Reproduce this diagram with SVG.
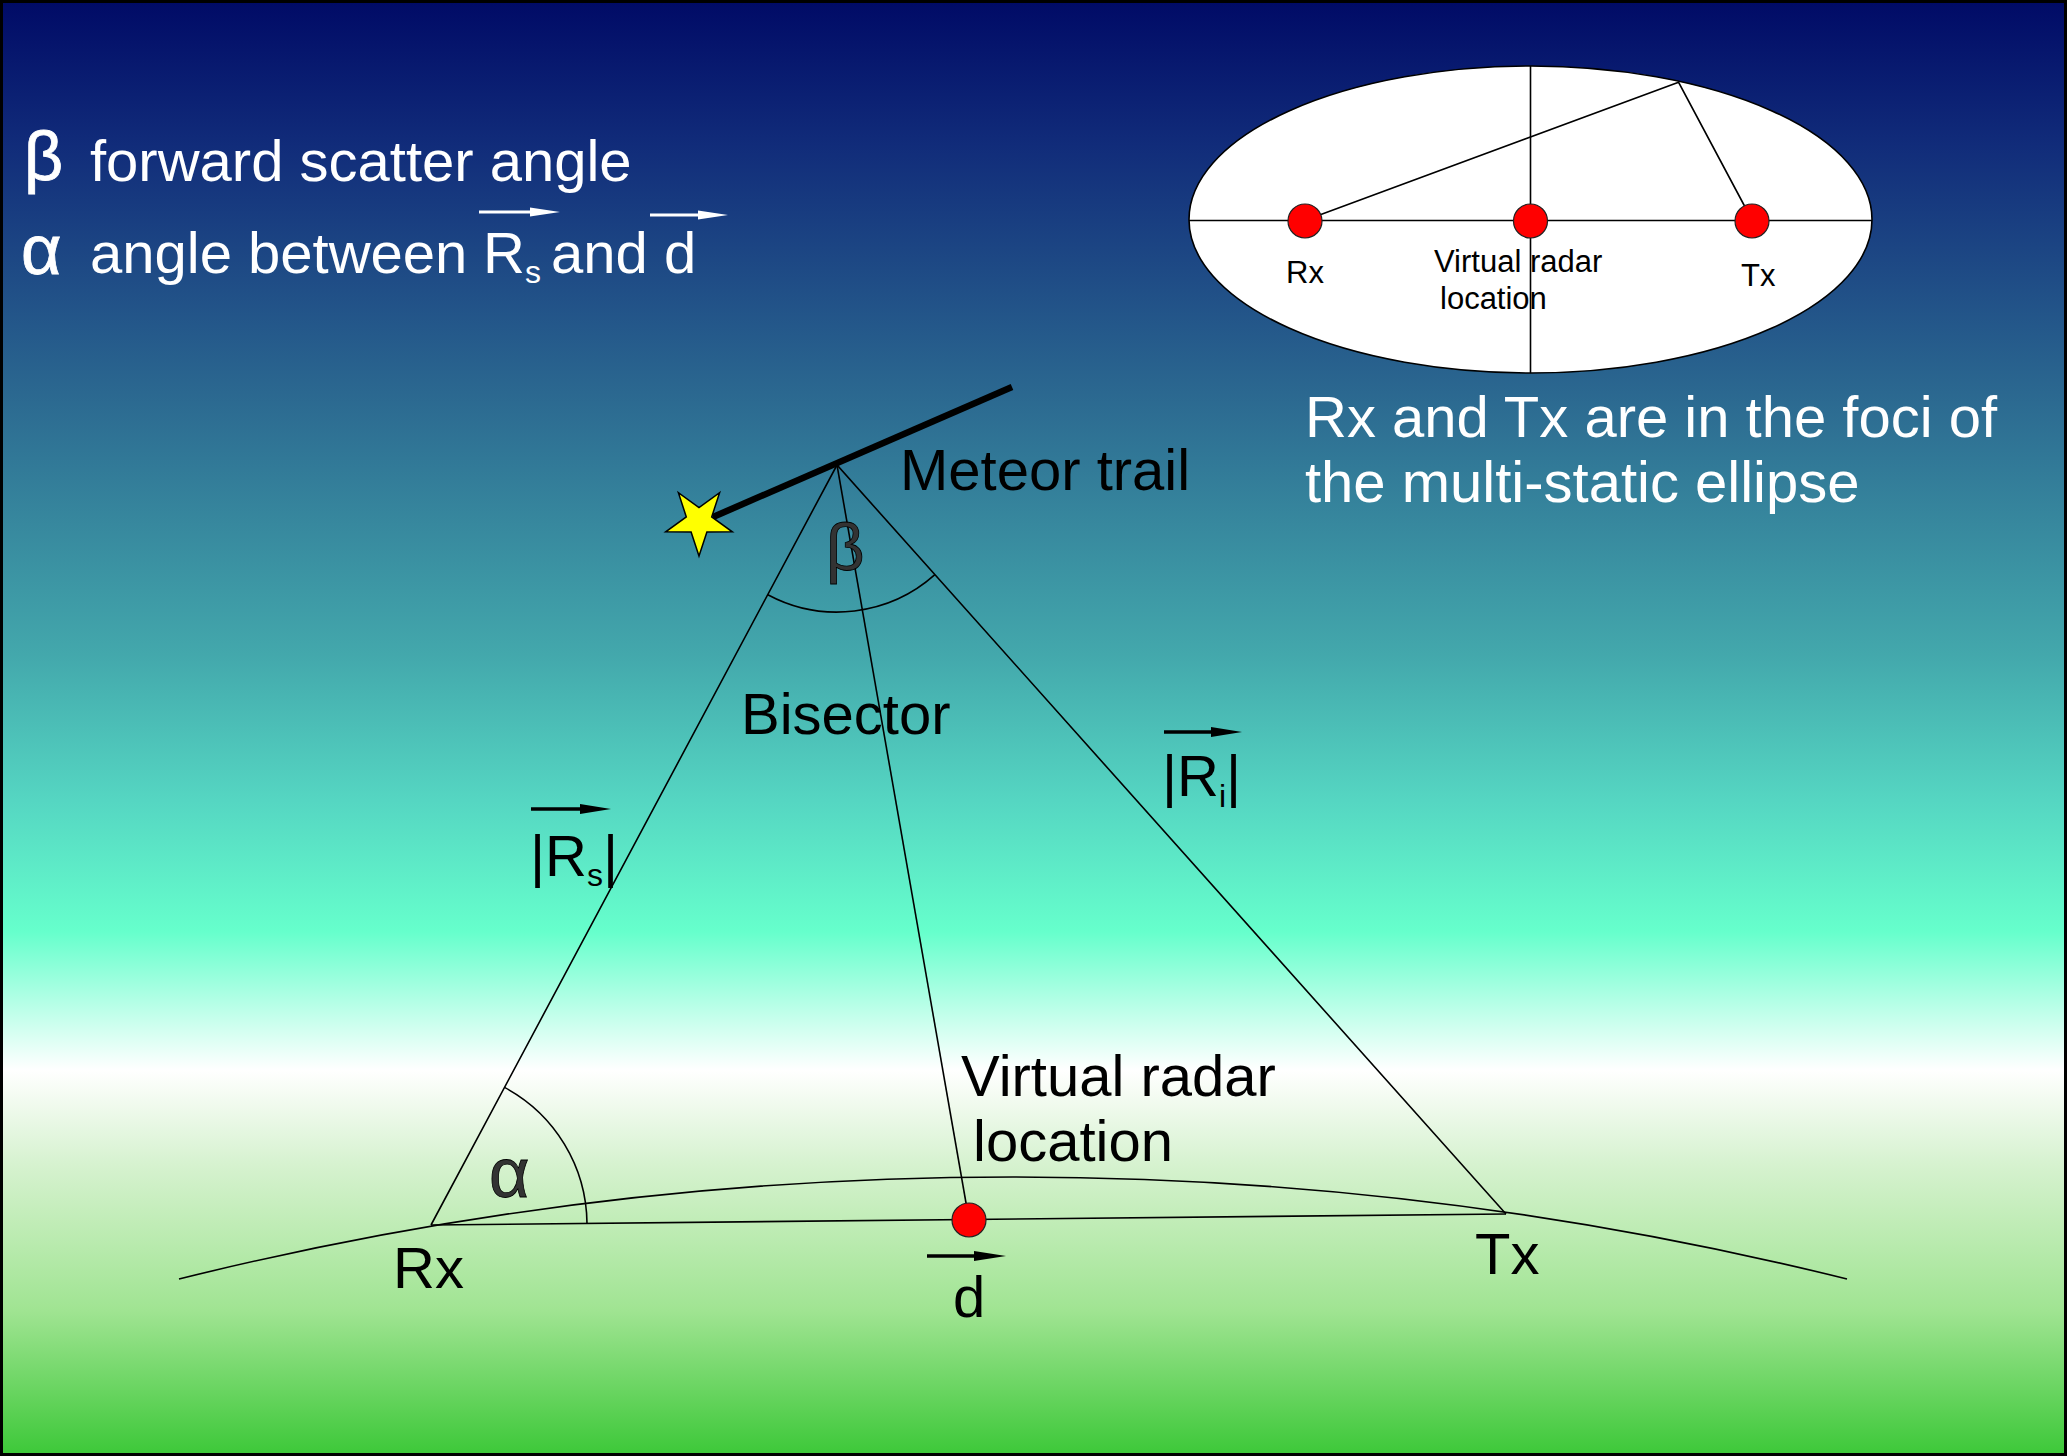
<svg xmlns="http://www.w3.org/2000/svg" width="2067" height="1456" viewBox="0 0 2067 1456">
<defs>
<linearGradient id="bg" x1="0" y1="0" x2="0" y2="1">
<stop offset="0" stop-color="#000a66"/>
<stop offset="0.10" stop-color="#112c7a"/>
<stop offset="0.27" stop-color="#2b6890"/>
<stop offset="0.45" stop-color="#43a8ac"/>
<stop offset="0.55" stop-color="#55d6c2"/>
<stop offset="0.64" stop-color="#66ffcc"/>
<stop offset="0.735" stop-color="#ffffff"/>
<stop offset="0.80" stop-color="#d6f2cf"/>
<stop offset="0.90" stop-color="#a0e492"/>
<stop offset="1" stop-color="#3cc838"/>
</linearGradient>
<style>
text{font-family:"Liberation Sans",Arial,sans-serif;}
.w{fill:#ffffff;font-size:58px;}
.b{fill:#000000;font-size:58px;}
.g{fill:#333333;stroke:#000;stroke-width:0.8;}
.gw{fill:#ffffff;stroke:#ffffff;stroke-width:0.8;}
.s{fill:#000000;font-size:31px;}
.ln{stroke:#000;stroke-width:1.6;fill:none;}
.dot{fill:#ff0000;stroke:#222;stroke-width:1.2;}
.aw{stroke:#fff;stroke-width:3;}
.ab{stroke:#000;stroke-width:3.5;}
</style>
</defs>
<rect x="0" y="0" width="2067" height="1456" fill="url(#bg)"/>
<rect x="1.5" y="1.5" width="2064" height="1453" fill="none" stroke="#000" stroke-width="3"/>

<g id="legend">
<text class="gw" x="24" y="180" font-size="68">β</text>
<text class="w" x="90" y="181">forward scatter angle</text>
<text class="gw" x="21" y="274" font-size="70">α</text>
<text class="w" x="90" y="273">angle between</text>
<text class="w" x="483" y="273">R<tspan font-size="32" dy="10">s</tspan></text>
<text class="w" x="551" y="273">and d</text>
<line class="aw" x1="479" y1="212" x2="532" y2="212"/>
<polygon points="530,207.5 560,212 530,216.5" fill="#fff"/>
<line class="aw" x1="650" y1="215" x2="700" y2="215"/>
<polygon points="698,210.5 728,215 698,219.5" fill="#fff"/>
</g>

<g id="ellipse-inset">
<ellipse cx="1530.5" cy="219.5" rx="341.5" ry="153.5" fill="#fff" stroke="#000" stroke-width="1.6"/>
<line class="ln" x1="1189" y1="220.5" x2="1872" y2="220.5"/>
<line class="ln" x1="1530.5" y1="66" x2="1530.5" y2="373"/>
<polyline class="ln" points="1306,220 1678.6,82.3 1752,220"/>
<circle class="dot" cx="1305" cy="221" r="17"/>
<circle class="dot" cx="1530.5" cy="221" r="17"/>
<circle class="dot" cx="1752" cy="221" r="17"/>
<text class="s" x="1286" y="283">Rx</text>
<text class="s" x="1434" y="272" font-size="34">Virtual radar</text>
<text class="s" x="1440" y="309" font-size="34">location</text>
<text class="s" x="1741" y="286" font-size="33">Tx</text>
</g>

<g id="ellipse-caption">
<text class="w" x="1305" y="437">Rx and Tx are in the foci of</text>
<text class="w" x="1305" y="502">the multi-static ellipse</text>
</g>

<g id="connectors">
<path class="ln" d="M179,1279 A3460,3460 0 0 1 1847,1279" stroke-width="2.2"/>
<line class="ln" x1="431" y1="1225" x2="1506" y2="1214" stroke-width="2"/>
<path class="ln" d="M431,1225 L837,465 L1506,1214"/>
<line class="ln" x1="837" y1="465" x2="969" y2="1220"/>
<path class="ln" d="M767.8,594.7 A147,147 0 0 0 934.9,574.7"/>
<path class="ln" d="M504.5,1087.4 A156,156 0 0 1 587,1223.4"/>
</g>

<g id="meteor">
<line x1="713" y1="517" x2="1012" y2="387" stroke="#000" stroke-width="6.5"/>
<polygon points="699,556 706.9,531.9 732.3,531.8 711.7,516.9 719.6,492.7 699,507.6 678.4,492.7 686.3,516.9 665.7,531.8 691.1,531.9" fill="#ffff00" stroke="#000" stroke-width="1.5"/>
<text class="b" x="900" y="490">Meteor trail</text>
<text class="g" x="826" y="570" font-size="67">β</text>
</g>

<g id="bisector-label">
<text class="b" x="741" y="734">Bisector</text>
</g>

<g id="rs-label">
<line class="ab" x1="531" y1="809" x2="582" y2="809"/>
<polygon points="580,804 611,809 580,814" fill="#000"/>
<text class="b" x="530" y="876">|R<tspan font-size="32" dy="10">s</tspan><tspan dy="-10">|</tspan></text>
</g>

<g id="ri-label">
<line class="ab" x1="1164" y1="732" x2="1213" y2="732"/>
<polygon points="1211,727 1242,732 1211,737" fill="#000"/>
<text class="b" x="1162" y="796">|R<tspan font-size="32" dy="11">i</tspan><tspan dy="-11">|</tspan></text>
</g>

<g id="rx">
<text class="b" x="393" y="1288" font-size="56">Rx</text>
<text class="g" x="489" y="1197" font-size="70">α</text>
</g>

<g id="virtual-radar">
<circle class="dot" cx="969" cy="1220" r="17"/>
<text class="b" x="961" y="1096">Virtual radar</text>
<text class="b" x="973" y="1161">location</text>
<line class="ab" x1="927" y1="1256" x2="976" y2="1256"/>
<polygon points="974,1251 1006,1256 974,1261" fill="#000"/>
<text class="b" x="953" y="1317" font-size="56">d</text>
</g>

<g id="tx">
<text class="b" x="1475" y="1274" font-size="56">Tx</text>
</g>
</svg>
